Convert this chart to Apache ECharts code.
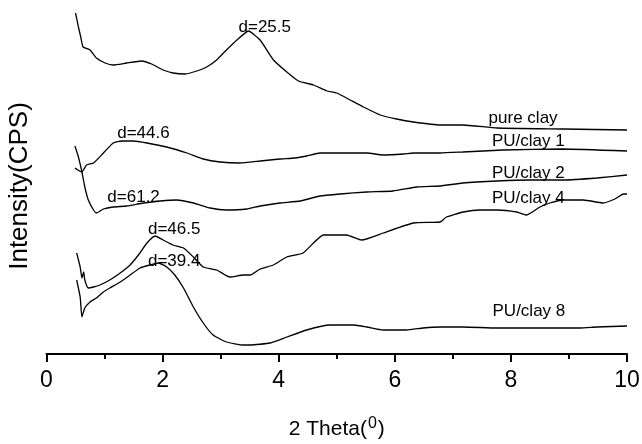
<!DOCTYPE html>
<html>
<head>
<meta charset="utf-8">
<script src="https://cdn.jsdelivr.net/npm/echarts@6/dist/echarts.min.js"></script>
<style>
html,body{margin:0;padding:0;background:#fff;}
#c{width:642px;height:444px;}
</style>
</head>
<body>
<div id="c"></div>
<script>
// 2 Theta (deg) vs intensity (arbitrary offset units)
const pureClay = [[0.50,341],[0.55,327],[0.59,317],[0.63,307],[0.75,304],[0.86,296],[1.01,291],[1.15,289],[1.38,291],[1.64,293],[1.81,290],[2.01,284],[2.18,281],[2.39,280],[2.59,283],[2.76,287],[2.93,294],[3.10,304],[3.28,314],[3.48,323],[3.68,314],[3.91,294],[4.14,282],[4.34,273],[4.60,269],[4.83,263],[5.00,261],[5.23,254],[5.46,247],[5.75,239],[6.03,235],[6.32,232],[6.78,229],[7.17,229],[7.76,226],[8.90,225],[10.0,224]];
const puClay1 = [[0.49,186],[0.54,184],[0.61,182],[0.69,189],[0.81,191],[0.98,201],[1.15,211],[1.30,213],[1.50,213],[1.73,211],[2.07,207],[2.42,201],[2.70,195],[2.99,192],[3.33,191],[3.68,193],[4.02,195],[4.28,196],[4.48,198],[4.71,201],[5.06,201],[5.52,201],[5.80,199],[6.15,200],[6.32,201],[6.78,201],[7.17,202],[7.52,203],[7.86,204],[8.90,205],[10.0,203]];
const puClay2 = [[0.49,208],[0.55,197],[0.61,182],[0.66,167],[0.72,154],[0.81,144],[0.86,141],[0.98,145],[1.15,147],[1.38,148],[1.67,151],[1.96,153],[2.24,154],[2.53,151],[2.82,146],[3.10,144],[3.45,145],[3.68,148],[4.02,151],[4.37,153],[4.71,158],[5.06,160],[5.52,162],[5.97,163],[6.38,167],[6.78,168],[7.17,171],[7.76,173],[8.33,174],[8.90,174],[9.48,176],[10.0,179]];
const puClay4 = [[0.52,101],[0.58,87],[0.61,76],[0.64,82],[0.66,74],[0.72,66],[0.81,67],[0.92,69],[1.09,74],[1.27,81],[1.44,89],[1.61,101],[1.73,111],[1.87,118],[2.01,114],[2.18,109],[2.36,106],[2.53,97],[2.70,87],[2.93,84],[3.16,77],[3.39,79],[3.51,79],[3.68,85],[3.91,89],[4.14,97],[4.42,101],[4.77,119],[5.17,119],[5.43,114],[5.80,121],[6.32,131],[6.78,132],[6.89,137],[7.18,142],[7.47,144],[7.76,144],[8.10,142],[8.27,139],[8.50,147],[8.67,151],[8.90,154],[9.25,154],[9.59,151],[9.79,155],[9.94,160],[10.0,160]];
const puClay8 = [[0.52,74],[0.58,57],[0.61,37],[0.66,46],[0.75,52],[0.86,56],[0.98,62],[1.09,66],[1.27,72],[1.44,79],[1.61,86],[1.78,89],[1.93,91],[2.07,87],[2.21,79],[2.36,66],[2.53,47],[2.70,31],[2.87,19],[3.10,12],[3.39,9],[3.51,9],[3.85,11],[4.14,17],[4.48,24],[4.88,29],[5.29,29],[5.52,27],[5.80,24],[6.20,24],[6.49,26],[6.78,27],[7.18,27],[7.76,26],[8.62,26],[9.19,26],[9.48,27],[10.0,28]];
const seriesNames = ['pure clay','PU/clay 1','PU/clay 2','PU/clay 4','PU/clay 8'];
const seriesData = [pureClay, puClay1, puClay2, puClay4, puClay8];
// annotation texts and their centre positions (data units)
const annoText = ['d=25.5','d=44.6','d=61.2','d=46.5','d=39.4','pure clay','PU/clay 1','PU/clay 2','PU/clay 4','PU/clay 8'];
const annoX = [3.76,1.67,1.50,2.20,2.20,8.21,8.30,8.30,8.30,8.31];
const annoY = [327,221,157,125,93,236,213,181,156,43];
const xTicks = [0,2,4,6,8,10];

const FONT = 'Liberation Sans, Arial, sans-serif';
const chart = echarts.init(document.getElementById('c'), null, {renderer:'canvas'});
const series = seriesData.map((d,i)=>({
  name: seriesNames[i], type:'line', data:d, showSymbol:false, symbol:'none', smooth:0.15,
  lineStyle:{color:'#000', width:1.3}, animation:false, z:2
}));
series.push({
  type:'scatter', symbolSize:2, itemStyle:{color:'rgba(0,0,0,0)'}, animation:false, z:3,
  data: annoText.map((t,i)=>({value:[annoX[i],annoY[i]], name:t})),
  label:{show:true, position:'inside', formatter:p=>p.name, color:'#000', opacity:1,
         textBorderWidth:0, fontFamily:FONT, fontSize:17},
  emphasis:{disabled:true}, silent:true
});
chart.setOption({
  backgroundColor:'#fff',
  animation:false,
  grid:{left:46.5, right:15, top:0, bottom:90, containLabel:false, outerBoundsMode:'none'},
  xAxis:{
    type:'value', min:0, max:10, interval:2,
    axisLine:{show:true, onZero:false, lineStyle:{color:'#000', width:2}},
    axisTick:{show:true, inside:false, length:8, lineStyle:{color:'#000', width:2}},
    minorTick:{show:true, splitNumber:2, length:5, lineStyle:{color:'#000', width:2}},
    splitLine:{show:false},
    axisLabel:{color:'#000', fontFamily:FONT, fontSize:23, margin:15,
      formatter:v=> xTicks.indexOf(v)>=0 ? String(v) : ''},
    name:'{a|2 Theta(}{s|0}{a|)}', nameLocation:'middle', nameGap:62,
    nameTextStyle:{rich:{
      a:{fontFamily:FONT, fontSize:21, color:'#000'},
      s:{fontFamily:FONT, fontSize:16, color:'#000', verticalAlign:'top', padding:[0,1,10,1]}
    }}
  },
  yAxis:{
    type:'value', min:0, max:354,
    axisLine:{show:false}, axisTick:{show:false}, axisLabel:{show:false}, splitLine:{show:false}
  },
  graphic:[{
    type:'text', x:20, y:186, rotation:Math.PI/2, silent:true,
    style:{text:'Intensity(CPS)', fill:'#000', font:'26px Liberation Sans, Arial, sans-serif',
           textAlign:'center', textVerticalAlign:'middle'}
  }],
  series: series
});
</script>
</body>
</html>
